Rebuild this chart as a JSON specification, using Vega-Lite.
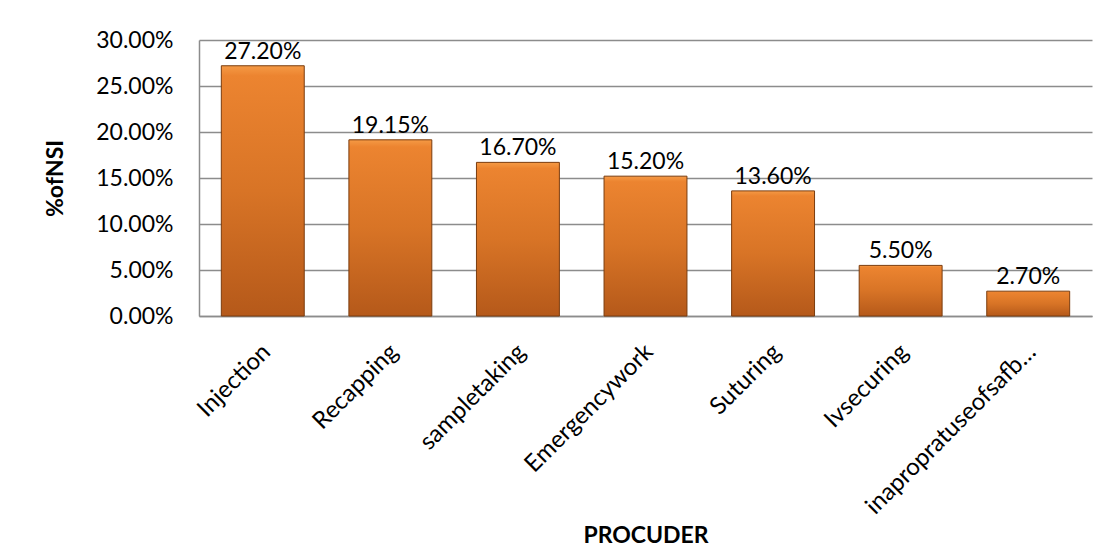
{
  "$schema": "https://vega.github.io/schema/vega-lite/v6.json",
  "width": 893,
  "height": 276,
  "autosize": {"type": "none"},
  "padding": {"left": 199, "top": 40, "right": 14, "bottom": 230},
  "background": "white",
  "data": {
    "values": [
      {"procedure": "Injection", "pct": 0.272},
      {"procedure": "Recapping", "pct": 0.1915},
      {"procedure": "sampletaking", "pct": 0.167},
      {"procedure": "Emergencywork", "pct": 0.152},
      {"procedure": "Suturing", "pct": 0.136},
      {"procedure": "Ivsecuring", "pct": 0.055},
      {"procedure": "inapropratuseofsafb…", "pct": 0.027}
    ]
  },
  "encoding": {
    "x": {
      "field": "procedure",
      "type": "nominal",
      "sort": null,
      "scale": {"paddingInner": 0.35, "paddingOuter": 0.175},
      "axis": {
        "title": "PROCUDER",
        "titleFont": "Lato",
        "titleFontSize": 23,
        "titleFontWeight": "bold",
        "titleColor": "black",
        "titleY": 208,
        "labelAngle": -45,
        "labelAlign": "right",
        "labelBaseline": "middle",
        "labelFont": "Lato",
        "labelFontSize": 24,
        "labelColor": "black",
        "labelPadding": 32,
        "labelOffset": 4,
        "labelLimit": 400,
        "ticks": false,
        "domainColor": "#8c8c8c",
        "domainWidth": 1.5
      }
    },
    "y": {
      "field": "pct",
      "type": "quantitative",
      "scale": {"domain": [0, 0.3]},
      "axis": {
        "title": "%ofNSI",
        "titleFont": "Lato",
        "titleFontSize": 23,
        "titleFontWeight": "bold",
        "titleColor": "black",
        "titleX": -132,
        "format": ".2%",
        "values": [0, 0.05, 0.1, 0.15, 0.2, 0.25, 0.3],
        "labelFont": "Lato",
        "labelFontSize": 23,
        "labelColor": "black",
        "labelPadding": 26,
        "ticks": false,
        "grid": true,
        "gridColor": "#8c8c8c",
        "gridWidth": 1.5,
        "domainColor": "#8c8c8c",
        "domainWidth": 1.5
      }
    }
  },
  "layer": [
    {
      "mark": {
        "type": "bar",
        "stroke": "#7a3c0e",
        "strokeWidth": 1,
        "color": {
          "gradient": "linear",
          "x1": 0, "y1": 0, "x2": 0, "y2": 1,
          "stops": [
            {"offset": 0, "color": "#f59a45"},
            {"offset": 0.04, "color": "#ec8430"},
            {"offset": 0.5, "color": "#d87426"},
            {"offset": 1, "color": "#b5591a"}
          ]
        }
      }
    },
    {
      "mark": {
        "type": "text",
        "dy": -14,
        "font": "Lato",
        "fontSize": 23,
        "color": "black"
      },
      "encoding": {
        "text": {"field": "pct", "type": "quantitative", "format": ".2%"}
      }
    }
  ],
  "config": {"view": {"stroke": null}}
}
